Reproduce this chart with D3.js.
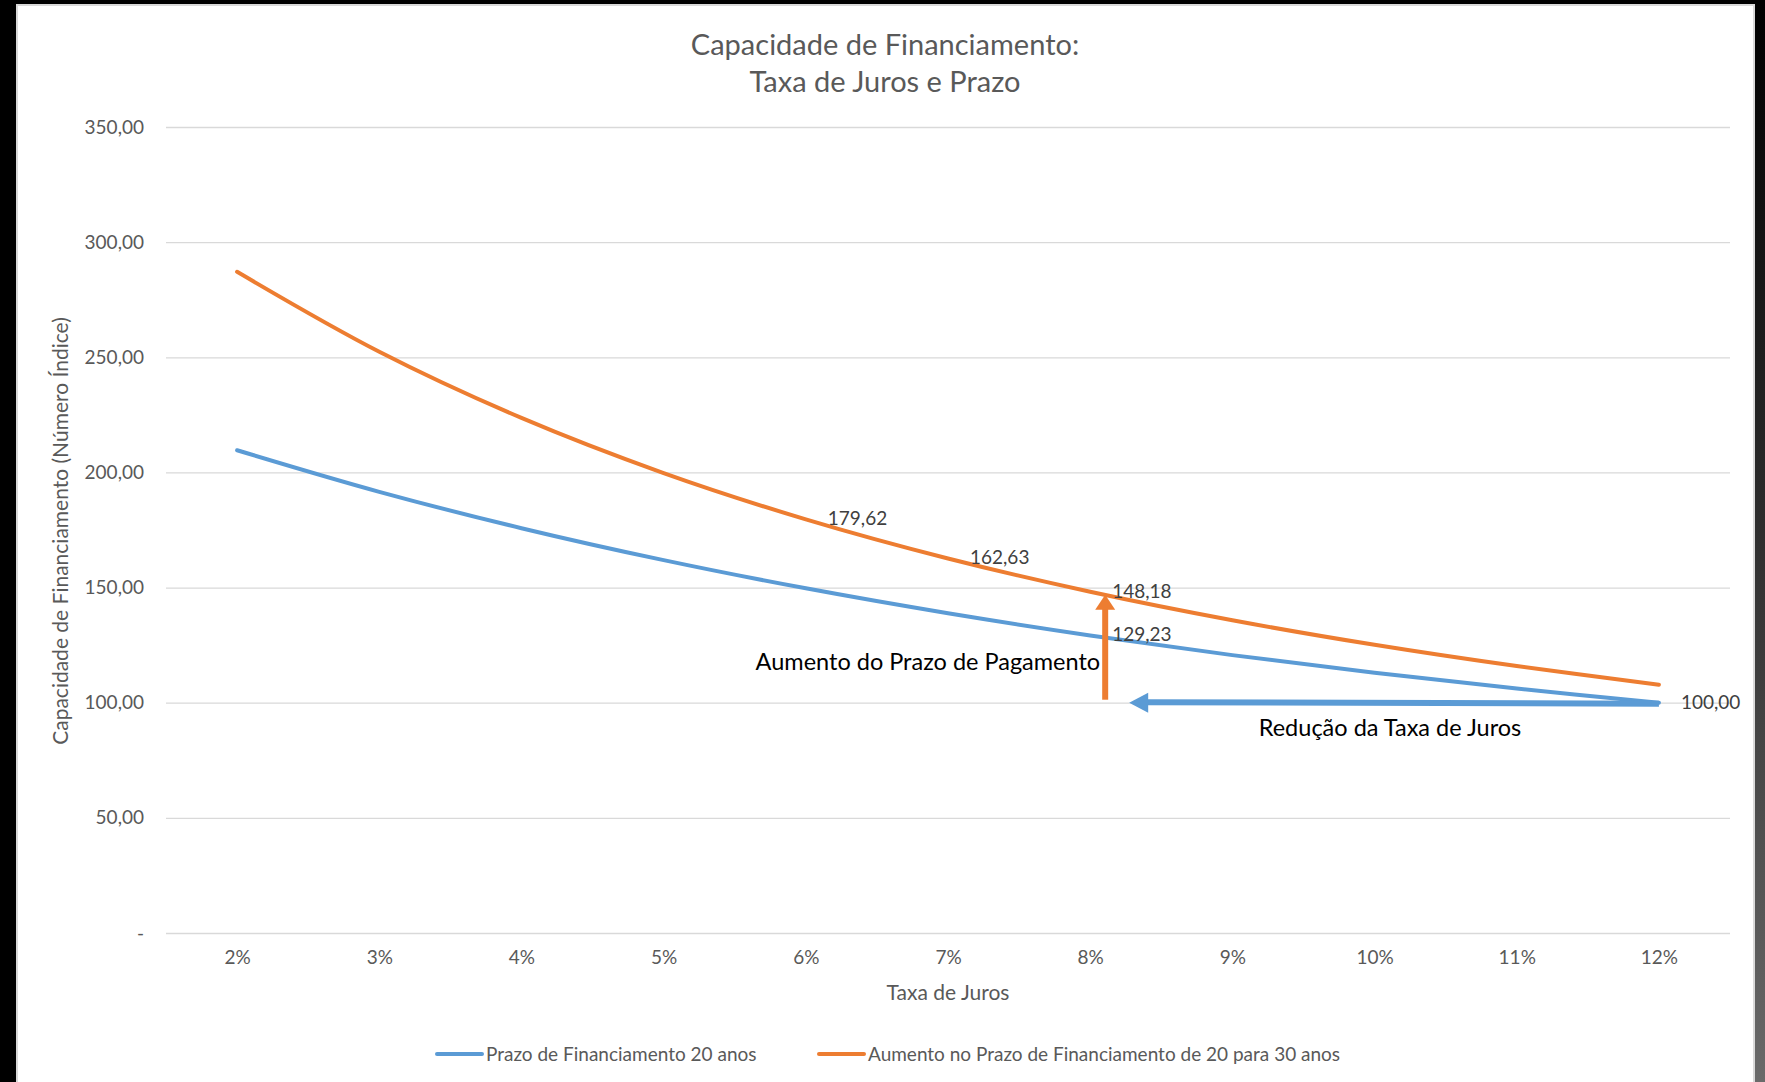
<!DOCTYPE html>
<html>
<head>
<meta charset="utf-8">
<script src="https://cdn.jsdelivr.net/npm/d3@7"></script>
<style>
  body { margin: 0; background: #000; }
  svg { display: block; font-family: Lato, "Open Sans", sans-serif; }
</style>
</head>
<body>
<script>
// chart values
var categories = ["2%", "3%", "4%", "5%", "6%", "7%", "8%", "9%", "10%", "11%", "12%"];
var prazo20 = [209.62, 191.58, 175.79, 161.91, 149.67, 138.85, 129.23, 120.67, 113.02, 106.17, 100.00];
var prazo30 = [287.11, 252.40, 223.67, 199.72, 179.62, 162.63, 148.18, 135.81, 125.15, 115.91, 107.84];
var yTicks = [0, 50, 100, 150, 200, 250, 300, 350];
var seriesNames = ["Prazo de Financiamento 20 anos", "Aumento no Prazo de Financiamento de 20 para 30 anos"];
// which points carry a data label
var labels20 = ["8%", "12%"];
var labels30 = ["6%", "7%", "8%"];

var width = 1765, height = 1082;
var blue = "#5b9bd5", orange = "#ed7d31";
var fmt = function(v) { return v === 0 ? "-" : d3.format(".2f")(v).replace(".", ","); };

var svg = d3.select("body").append("svg")
    .attr("width", width)
    .attr("height", height);

var defs = svg.append("defs");
var grad = defs.append("linearGradient")
    .attr("id", "rband")
    .attr("x1", 0).attr("y1", 0).attr("x2", 0).attr("y2", 1);
grad.append("stop").attr("offset", "0%").attr("stop-color", "#000");
grad.append("stop").attr("offset", "45%").attr("stop-color", "#2a2a2a");
grad.append("stop").attr("offset", "100%").attr("stop-color", "#6a6a6a");

// frame (screenshot borders)
svg.append("rect").attr("width", width).attr("height", height).attr("fill", "#000");
svg.append("rect").attr("x", 1753).attr("y", 4).attr("width", 12).attr("height", height - 4).attr("fill", "url(#rband)");
svg.append("rect").attr("x", 16).attr("y", 4).attr("width", 1739).attr("height", height - 4).attr("fill", "#d9d9d9");
svg.append("rect").attr("x", 18).attr("y", 6).attr("width", 1735).attr("height", height - 6).attr("fill", "#fff");

var x = d3.scalePoint()
    .domain(categories)
    .range([166, 1730])
    .padding(0.5);

var y = d3.scaleLinear()
    .domain([0, 350])
    .range([933, 127]);

// title
var title = svg.append("text")
    .attr("x", 885)
    .attr("text-anchor", "middle")
    .attr("fill", "#595959")
    .style("font-size", "29px");
title.append("tspan").attr("x", 885).attr("y", 55).text("Capacidade de Financiamento:");
title.append("tspan").attr("x", 885).attr("y", 92).text("Taxa de Juros e Prazo");

// gridlines + y axis
var yAxis = svg.append("g")
    .attr("transform", "translate(166,0)")
    .call(d3.axisLeft(y).tickValues(yTicks).tickFormat(fmt)
        .tickSize(-(1730 - 166)).tickPadding(22));
yAxis.select(".domain").remove();
yAxis.selectAll(".tick line").attr("stroke", "#d9d9d9").attr("stroke-width", 1.3);
yAxis.selectAll(".tick text")
    .attr("fill", "#595959")
    .style("font-size", "19px")
    .style("font-family", "Lato, sans-serif");

// x axis labels
var xAxis = svg.append("g")
    .attr("transform", "translate(0,933)")
    .call(d3.axisBottom(x).tickSize(0).tickPadding(18));
xAxis.select(".domain").remove();
xAxis.selectAll(".tick text")
    .attr("fill", "#595959")
    .style("font-size", "19px")
    .style("font-family", "Lato, sans-serif");

// axis titles
svg.append("text")
    .attr("x", 948).attr("y", 1000)
    .attr("text-anchor", "middle")
    .attr("fill", "#595959")
    .style("font-size", "21px")
    .text("Taxa de Juros");

svg.append("text")
    .attr("transform", "translate(68,531) rotate(-90)")
    .attr("text-anchor", "middle")
    .attr("fill", "#595959")
    .style("font-size", "21px")
    .text("Capacidade de Financiamento (Número Índice)");

// lines
var line = d3.line()
    .x(function(d) { return x(d.cat); })
    .y(function(d) { return y(d.v); })
    .curve(d3.curveCatmullRom.alpha(0.5));

var series = [
    { name: seriesNames[0], color: blue, values: prazo20, show: labels20 },
    { name: seriesNames[1], color: orange, values: prazo30, show: labels30 }
];

series.forEach(function(s) {
    var pts = s.values.map(function(v, i) { return { cat: categories[i], v: v }; });
    svg.append("path")
        .datum(pts)
        .attr("d", line)
        .attr("fill", "none")
        .attr("stroke", s.color)
        .attr("stroke-width", 4)
        .attr("stroke-linecap", "round")
        .attr("stroke-linejoin", "round");
    s.pts = pts;
});

// annotation arrows
var ax = x("8%") + 15;
svg.append("line")
    .attr("x1", ax).attr("x2", ax)
    .attr("y1", y(100) - 3).attr("y2", y(148.18) + 16)
    .attr("stroke", orange).attr("stroke-width", 6);
svg.append("path")
    .attr("d", "M" + (ax - 10) + "," + (y(148.18) + 18) + "L" + ax + "," + (y(148.18) + 3) +
        "L" + (ax + 10) + "," + (y(148.18) + 18) + "Z")
    .attr("fill", orange);

var bx = x("8%") + 39;
svg.append("path")
    .attr("d", "M" + (bx + 16) + "," + (y(100) - 3.5) + "L" + x("12%") + "," + (y(100) - 2) +
        "L" + x("12%") + "," + (y(100) + 4) + "L" + (bx + 16) + "," + (y(100) + 2.5) + "Z")
    .attr("fill", blue);
svg.append("path")
    .attr("d", "M" + bx + "," + y(100) + "L" + (bx + 19) + "," + (y(100) - 10) +
        "L" + (bx + 19) + "," + (y(100) + 10) + "Z")
    .attr("fill", blue);

svg.append("text")
    .attr("x", ax - 5).attr("y", 670)
    .attr("text-anchor", "end")
    .attr("fill", "#000")
    .style("font-size", "23.5px")
    .text("Aumento do Prazo de Pagamento");

svg.append("text")
    .attr("x", 1390).attr("y", 736)
    .attr("text-anchor", "middle")
    .attr("fill", "#000")
    .style("font-size", "23.5px")
    .text("Redução da Taxa de Juros");

// data labels
series.forEach(function(s) {
    svg.selectAll(null)
        .data(s.pts.filter(function(d) { return s.show.indexOf(d.cat) >= 0; }))
        .enter().append("text")
        .attr("x", function(d) { return x(d.cat) + 22; })
        .attr("y", function(d) { return y(d.v) + 6; })
        .attr("fill", "#404040")
        .style("font-size", "19px")
        .text(function(d) { return fmt(d.v); });
});

// legend
var legend = svg.append("g").attr("transform", "translate(0,1054)");
var legX = [437, 819];
series.forEach(function(s, i) {
    var g = legend.append("g").attr("transform", "translate(" + legX[i] + ",0)");
    g.append("line")
        .attr("x1", 0).attr("x2", 45)
        .attr("stroke", s.color).attr("stroke-width", 4)
        .attr("stroke-linecap", "round");
    g.append("text")
        .attr("x", 49).attr("y", 6.5)
        .attr("fill", "#595959")
        .style("font-size", "19px")
        .text(s.name);
});
</script>
</body>
</html>
